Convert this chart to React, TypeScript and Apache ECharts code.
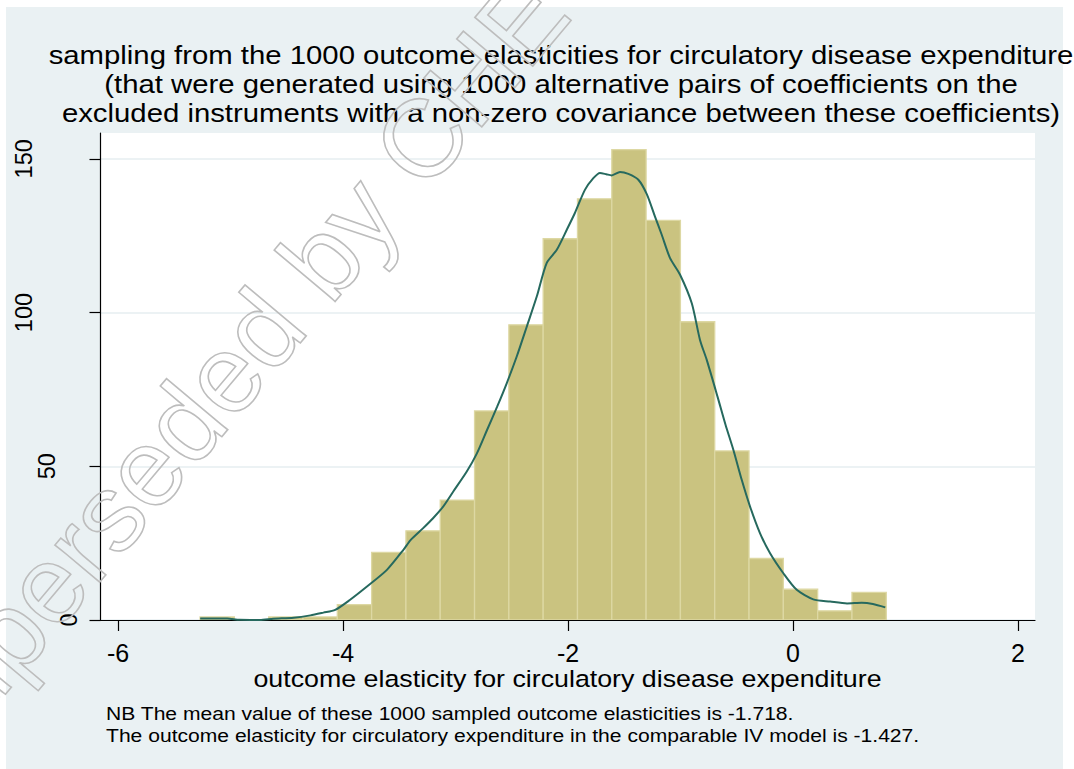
import React, { useEffect, useRef } from 'react';
import * as echarts from 'echarts';

const titleLines = [
  'sampling from the 1000 outcome elasticities for circulatory disease expenditure',
  '(that were generated using 1000 alternative pairs of coefficients on the',
  'excluded instruments with a non-zero covariance between these coefficients)',
];
const xAxisTitle = 'outcome elasticity for circulatory disease expenditure';
const noteLines = [
  'NB The mean value of these 1000 sampled outcome elasticities is -1.718.',
  'The outcome elasticity for circulatory expenditure in the comparable IV model is -1.427.',
];
const watermarkText = 'Superseded by CHE Research Paper';

const xTicks = [-6, -4, -2, 0, 2];
const yTicks = [0, 50, 100, 150];

// histogram: 20 equal-width bins
const binStart = -5.271;
const binWidth = 0.305;
const binCounts = [1, 0, 1, 1, 5, 22, 29, 39, 68, 96, 124, 137, 153, 130, 97, 55, 20, 10, 3, 9];

// kernel density overlay (scaled to frequency)
const densityX = [
  -5.27, -5.03, -4.92, -4.74, -4.62, -4.44, -4.29, -4.175, -4.07, -3.94, -3.79, -3.61, -3.46,
  -3.4, -3.29, -3.2, -3.11, -3.02, -2.9, -2.81, -2.72, -2.63, -2.545, -2.456, -2.367, -2.278,
  -2.19, -2.1, -2.01, -1.94, -1.85, -1.775, -1.716, -1.66, -1.612, -1.538, -1.464, -1.375,
  -1.3, -1.227, -1.167, -1.093, -1.004, -0.9, -0.827, -0.767, -0.67, -0.6, -0.53, -0.456,
  -0.382, -0.293, -0.204, -0.086, 0.033, 0.18, 0.33, 0.48, 0.61, 0.71, 0.82,
];
const densityY = [
  0.5, 0.5, 0.05, 0.0, 0.4, 0.75, 1.5, 2.4, 3.3, 6.5, 10.8, 16.3, 23,
  26, 29.8, 33.1, 36.9, 41.8, 48.3, 54.2, 61.8, 69.4, 77, 85.7, 95.4, 105.2,
  116.1, 120.4, 127, 132.3, 139.9, 143.7, 145.4, 145.0, 144.6, 145.7, 145.1, 143.2,
  138.5, 131.2, 125.3, 117.7, 112.3, 103, 91.1, 84.6, 72.5, 63.5, 55.3, 45.6,
  36.9, 28.2, 21.7, 15.2, 9.8, 6.7, 6.0, 5.4, 5.6, 5.2, 4.1,
];

const FONT = '"Liberation Sans", Arial, sans-serif';
const STRETCH = 1.173;

export default function App() {
  const ref = useRef<HTMLDivElement>(null);

  useEffect(() => {
    if (!ref.current) return;
    const chart = echarts.init(ref.current, null, { renderer: 'svg' });

    const histData = binCounts.map((c, i) => [binStart + i * binWidth, binStart + (i + 1) * binWidth, c]);
    const densityData = densityX.map((x, i) => [x, densityY[i]]);

    const titleGraphics = titleLines.map((t, i) => ({
      type: 'text',
      x: 561,
      y: 55 + i * 29.3,
      scaleX: STRETCH,
      silent: true,
      style: { text: t, font: `25px ${FONT}`, fill: '#000', textAlign: 'center', textVerticalAlign: 'middle' },
    }));
    const noteGraphics = noteLines.map((t, i) => ({
      type: 'text',
      x: 106,
      y: 713.5 + i * 21.5,
      scaleX: 1.14,
      silent: true,
      style: { text: t, font: `18.5px ${FONT}`, fill: '#000', textAlign: 'left', textVerticalAlign: 'middle' },
    }));

    const wmAngle = (50 * Math.PI) / 180;

    const labelKey: Record<number, string> = { 0: 'a', 50: 'b', 100: 'c', 150: 'c' };
    const yRichBase = { fontSize: 23.5, fontFamily: FONT, color: '#000' };

    chart.setOption({
      animation: false,
      backgroundColor: 'transparent',
      textStyle: { fontFamily: FONT },
      graphic: [
        ...titleGraphics,
        {
          type: 'text',
          x: 567.5,
          y: 678.5,
          scaleX: 1.15,
          silent: true,
          style: { text: xAxisTitle, font: `23.3px ${FONT}`, fill: '#000', textAlign: 'center', textVerticalAlign: 'middle' },
        },
        ...noteGraphics,
        {
          type: 'text',
          x: -100,
          y: 760,
          rotation: wmAngle,
          z: 100,
          silent: true,
          style: {
            text: watermarkText,
            font: `110px ${FONT}`,
            fill: 'none',
            stroke: '#bdbdbd',
            lineWidth: 1.6,
            textAlign: 'left',
            textVerticalAlign: 'middle',
          },
        },
      ],
      grid: {
        left: 100.5,
        top: 133,
        right: 39,
        bottom: 149,
        show: true,
        backgroundColor: '#ffffff',
        borderWidth: 0,
      },
      xAxis: {
        type: 'value',
        min: -6.156,
        max: 2.151,
        axisLine: { show: true, onZero: false, lineStyle: { color: '#000', width: 1.2 } },
        axisTick: { show: true, length: 11, customValues: xTicks, lineStyle: { color: '#000', width: 1.2 } },
        axisLabel: { customValues: xTicks, fontSize: 25, fontFamily: FONT, color: '#000', margin: 20 },
        splitLine: { show: false },
      },
      yAxis: {
        type: 'value',
        min: 0,
        max: 158.4,
        axisLine: { show: true, onZero: false, lineStyle: { color: '#000', width: 1.2 } },
        axisTick: { show: true, length: 11, customValues: yTicks, lineStyle: { color: '#000', width: 1.2 } },
        axisLabel: {
          customValues: yTicks,
          rotate: 90,
          margin: 20,
          formatter: (v: number) => `{${labelKey[v] || 'a'}|${v}}`,
          rich: {
            a: { ...yRichBase, padding: [0, 0, 0, 0] },
            b: { ...yRichBase, padding: [0, 0, 22, 0] },
            c: { ...yRichBase, padding: [0, 0, 45, 0] },
          },
        },
        splitLine: { show: true, lineStyle: { color: '#E6EEF0', width: 1.5 } },
      },
      series: [
        {
          type: 'custom',
          name: 'histogram',
          data: histData,
          encode: { x: [0, 1], y: 2 },
          clip: true,
          renderItem: (params: any, api: any) => {
            const x0 = api.value(0);
            const x1 = api.value(1);
            const c = api.value(2);
            const pTop = api.coord([x0, c]);
            const pBot = api.coord([x1, 0]);
            return {
              type: 'rect',
              shape: { x: pTop[0], y: pTop[1], width: pBot[0] - pTop[0], height: pBot[1] - pTop[1] },
              style: { fill: '#CAC380', stroke: '#DDD8A3', lineWidth: 1.3 },
            };
          },
        },
        {
          type: 'line',
          name: 'density',
          data: densityData,
          showSymbol: false,
          symbol: 'none',
          smooth: 0.25,
          lineStyle: { color: '#26695E', width: 2 },
        },
      ],
    });

    return () => chart.dispose();
  }, []);

  return (
    <div style={{ position: 'fixed', left: 0, top: 0, width: 1074, height: 769, background: '#ffffff' }}>
      <div style={{ position: 'absolute', left: 6, top: 7, width: 1057, height: 762, background: '#EAF1F3' }} />
      <div ref={ref} style={{ position: 'absolute', left: 0, top: 0, width: 1074, height: 769 }} />
    </div>
  );
}
